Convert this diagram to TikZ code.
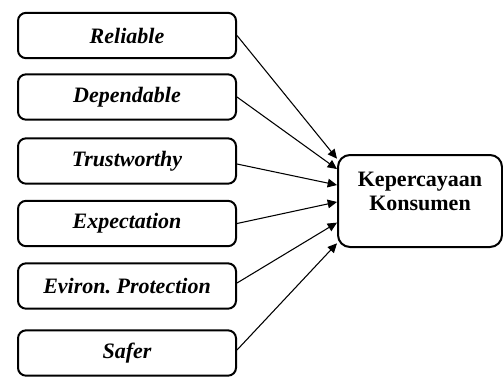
\documentclass[tikz,border=0pt]{standalone}
\usepackage{fontspec}
\setmainfont{Liberation Serif}
\usetikzlibrary{calc,arrows.meta}
\begin{document}
\begin{tikzpicture}[x=0.75pt,y=-0.75pt,
  var/.style={draw,line width=1.5pt,rounded corners=6pt,minimum width=163.5pt,minimum height=34pt,
    font=\fontsize{16.5}{19}\selectfont\bfseries\itshape},
  link/.style={-{Triangle[length=7pt,width=6.5pt]},line width=0.8pt}]
  \useasboundingbox (0,0) rectangle (503,376);
  \node[var] (rel) at (127,35.5) {Reliable};
  \node[var] (dep) at (127,97) {Dependable};
  \node[var] (tru) at (127,161) {Trustworthy};
  \node[var] (exp) at (127,223.5) {Expectation};
  \node[var] (env) at (127,286) {Eviron.\ Protection};
  \node[var] (saf) at (127,353) {Safer};
  \node[draw,line width=1.5pt,rounded corners=9pt,minimum width=123pt,minimum height=69pt] (kk) at (420,201) {};
  \node[font=\fontsize{16.5}{18}\selectfont\bfseries,align=center,anchor=north,inner sep=0pt] (kt) at ($(kk.north)+(0,18)$) {Kepercayaan\\Konsumen};
  \coordinate (in1) at ($(kk.north west)!0.05!(kk.south west)$);
  \coordinate (in2) at ($(kk.north west)!0.16!(kk.south west)$);
  \coordinate (in3) at ($(kk.north west)!0.33!(kk.south west)$);
  \coordinate (in4) at ($(kk.north west)!0.51!(kk.south west)$);
  \coordinate (in5) at ($(kk.north west)!0.73!(kk.south west)$);
  \coordinate (in6) at ($(kk.north west)!0.95!(kk.south west)$);
  \draw[link] (rel.east) -- (in1);
  \draw[link] (dep.east) -- (in2);
  \draw[link] ($(tru.east)+(0,3)$) -- (in3);
  \draw[link] (exp.east) -- (in4);
  \draw[link] ($(env.east)+(0,-3)$) -- (in5);
  \draw[link] ($(saf.east)+(0,-3)$) -- (in6);
\end{tikzpicture}
\end{document}
